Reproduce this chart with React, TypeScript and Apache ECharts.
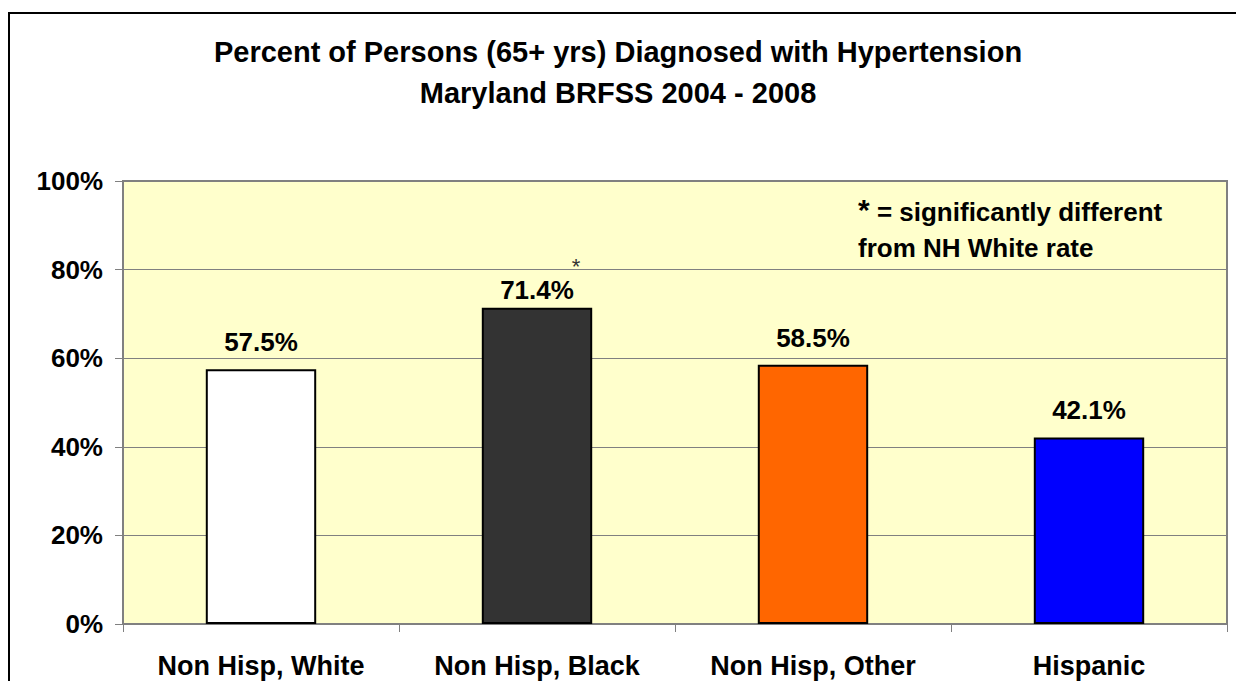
import React, { useEffect, useRef } from "react";
import * as echarts from "echarts";

const categories = ["Non Hisp, White", "Non Hisp, Black", "Non Hisp, Other", "Hispanic"];
const values = [57.5, 71.4, 58.5, 42.1];
const barColors = ["#FFFFFF", "#333333", "#FF6600", "#0000FF"];
const significant = [false, true, false, false];
const titleLines = ["Percent of Persons (65+ yrs) Diagnosed with Hypertension", "Maryland BRFSS 2004 - 2008"];
const noteLines = ["{s|*} = significantly different", "from NH White rate"];

const FONT = "'Liberation Sans', Arial, Helvetica, sans-serif";

export default function App() {
  const ref = useRef<HTMLDivElement>(null);
  useEffect(() => {
    document.body.style.margin = "0";
    const chart = echarts.init(ref.current!, null, { renderer: "svg" });
    const markData = categories
      .map((c, i) => ({ c, i }))
      .filter((d) => significant[d.i])
      .map((d) => ({ coord: [d.c, values[d.i]], value: "*" }));
    chart.setOption({
      animation: false,
      backgroundColor: "#FFFFFF",
      title: {
        text: titleLines.join("\n"),
        left: 613,
        top: 26,
        textAlign: "center",
        textStyle: {
          fontFamily: FONT,
          fontWeight: "bold",
          fontSize: 29,
          lineHeight: 41,
          color: "#000000",
        },
      },
      grid: {
        left: 123,
        top: 181,
        right: 9,
        bottom: 57,
        show: true,
        backgroundColor: "#FFFFCC",
        borderColor: "#808080",
        borderWidth: 2,
      },
      xAxis: {
        type: "category",
        data: categories,
        axisLine: { show: true, lineStyle: { color: "#808080", width: 2 } },
        axisTick: { show: true, alignWithLabel: false, length: 8, lineStyle: { color: "#808080", width: 1 } },
        axisLabel: {
          fontFamily: FONT,
          fontWeight: "bold",
          fontSize: 27,
          color: "#000000",
          margin: 28,
        },
        splitLine: { show: false },
      },
      yAxis: {
        type: "value",
        min: 0,
        max: 100,
        interval: 20,
        axisLine: { show: true, lineStyle: { color: "#808080", width: 2 } },
        axisTick: { show: true, length: 8, lineStyle: { color: "#808080", width: 1 } },
        axisLabel: {
          formatter: "{value}%",
          fontFamily: FONT,
          fontWeight: "bold",
          fontSize: 26,
          color: "#000000",
          margin: 20,
        },
        splitLine: { show: true, lineStyle: { color: "#808080", width: 1 } },
      },
      series: [
        {
          type: "bar",
          barWidth: "40%",
          data: values.map((v, i) => ({
            value: v,
            itemStyle: { color: barColors[i], borderColor: "#000000", borderWidth: 2 },
            label: { distance: significant[i] ? 5 : 14 },
          })),
          label: {
            show: true,
            position: "top",
            distance: 14,
            formatter: (p: any) => p.value.toFixed(1) + "%",
            fontFamily: FONT,
            fontWeight: "bold",
            fontSize: 26,
            color: "#000000",
          },
          markPoint: {
            symbol: "circle",
            symbolSize: 0,
            data: markData,
            label: {
              show: true,
              formatter: "*",
              offset: [39, -41],
              fontFamily: FONT,
              fontSize: 22,
              color: "#333333",
            },
          },
        },
      ],
      graphic: [
        {
          type: "rect",
          shape: { x: 9, y: 13, width: 1300, height: 800 },
          style: { fill: "none", stroke: "#000000", lineWidth: 2 },
          silent: true,
        },
        {
          type: "text",
          x: 858,
          y: 194,
          style: {
            text: noteLines.join("\n"),
            font: "bold 26px " + FONT,
            lineHeight: 36,
            fill: "#000000",
            rich: {
              s: { fontSize: 30, fontWeight: "bold", fontFamily: FONT, verticalAlign: "top", lineHeight: 36 },
            },
          },
        },
      ],
    });
    return () => chart.dispose();
  }, []);
  return <div ref={ref} style={{ position: "absolute", left: 0, top: 0, width: 1236, height: 681 }} />;
}
